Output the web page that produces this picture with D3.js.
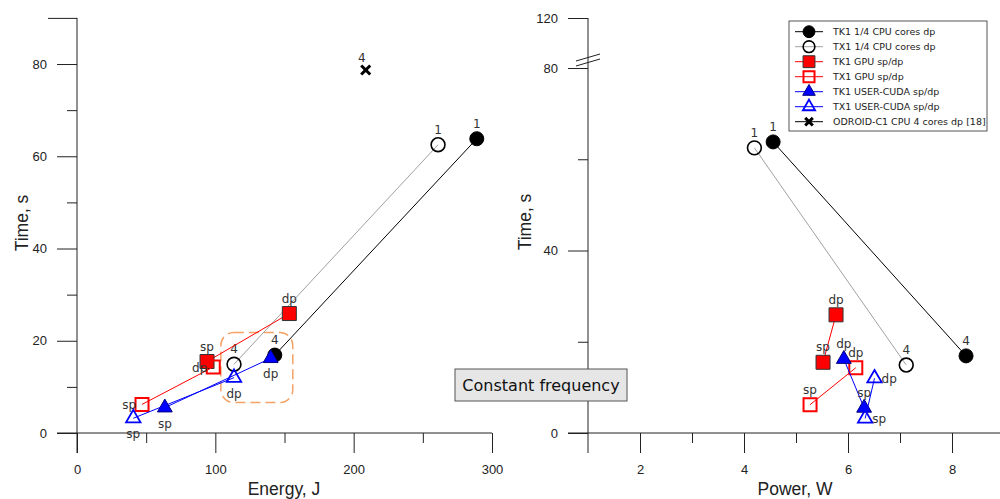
<!DOCTYPE html>
<html>
<head>
<meta charset="utf-8">
<script src="https://cdn.jsdelivr.net/npm/d3@7"></script>
<style>
  body { margin: 0; background: #fff; }
  svg text { font-family: "Liberation Sans", Arial, sans-serif; }
  .tick text { font-size: 13px; fill: #222; }
  .tick line { stroke: #222; }
  .lbl { font-family: "DejaVu Sans", Verdana, sans-serif; font-size: 12px; fill: #333; }
</style>
</head>
<body>
<script>
// series, one entry per legend row
const seriesNames = ["TK1 1/4 CPU cores dp", "TX1 1/4 CPU cores dp", "TK1 GPU sp/dp", "TX1 GPU sp/dp",
  "TK1 USER-CUDA sp/dp", "TX1 USER-CUDA sp/dp", "ODROID-C1 CPU 4 cores dp [18]"];
const pointLabels = [["1", "4"], ["1", "4"], ["sp", "dp"], ["sp", "dp"], ["sp", "dp"], ["sp", "dp"], ["4"]];
const timeS   = [[63.8, 16.9], [62.5, 14.9], [15.5, 25.9], [6.2, 14.3], [5.5, 16.2], [3.2, 12.0], [78.7]];
const energyJ = [[289, 143], [261, 113.5], [94, 153.5], [47, 98.5], [63.5, 140], [40.7, 113.5], [208.7]];
const powerW  = [[4.56, 8.27], [4.2, 7.12], [5.52, 5.77], [5.27, 6.15], [6.31, 5.92], [6.33, 6.51], [null]];

// axis ticks
const energyMajor = [0, 100, 200, 300], energyMinor = [50, 150, 250];
const timeMajorL = [0, 20, 40, 60, 80], timeMinorL = [10, 30, 50, 70];
const powerMajor = [2, 4, 6, 8], powerMinor = [3, 5, 7];
const timeMajorR = [0, 40, 80, 120], timeMinorR = [20, 60];

// highlighted region (energy, time) in the left panel
const boxEnergy = [104, 156], boxTime = [6.6, 21.8];

// where each point label sits
const leftPlace  = [["n", "n"], ["n", "n"], ["n", "n"], ["w", "w"], ["s", "s"], ["s", "s"], ["nw"]];
const rightPlace = [["n", "n"], ["n", "n"], ["n", "n"], ["n", "n"], ["n", "n"], ["e", "e"]];

const styles = [
  { shape: "circle",   size: 154, fill: "#000", stroke: "#000",    sw: 1,   line: "#000" },
  { shape: "circle",   size: 150, fill: "none", stroke: "#000",    sw: 1.6, line: "#a0a0a0" },
  { shape: "square",   size: 196, fill: "#f00", stroke: "#333",    sw: 1,   line: "#f00" },
  { shape: "square",   size: 169, fill: "none", stroke: "#f00",    sw: 2,   line: "#f00" },
  { shape: "triangle", size: 95,  fill: "#00f", stroke: "#000080", sw: 1,   line: "#00f" },
  { shape: "triangle", size: 90,  fill: "none", stroke: "#00f",    sw: 1.8, line: "#00f" },
  { shape: "times",    size: 55,  fill: "none", stroke: "#000",    sw: 3,   line: "#000" }
];
const symType = { circle: d3.symbolCircle, square: d3.symbolSquare, triangle: d3.symbolTriangle, times: d3.symbolTimes };
const placeOff = {
  n:  { dx: 0,  dy: -11, anchor: "middle" },
  s:  { dx: 0,  dy: 20,  anchor: "middle" },
  w:  { dx: -6, dy: 5,   anchor: "end" },
  e:  { dx: 7,  dy: 5,   anchor: "start" },
  nw: { dx: -4, dy: -8,  anchor: "middle" }
};

const svg = d3.select("body").append("svg")
  .attr("width", 1000).attr("height", 499);

const xL = d3.scaleLinear().domain([0, 300]).range([77, 492]);
const yL = d3.scaleLinear().domain([0, 90]).range([433, 17.9]);
const xR = d3.scaleLinear().domain([1, 9]).range([588, 1004]);
const yR = d3.scaleLinear().domain([0, 80, 120]).range([433, 68, 18]);

function axes(xs, ys, xMaj, xMin, yMaj, yMin) {
  const x0 = xs.domain()[0], y0 = ys.domain()[0];
  const bx = svg.append("g").attr("transform", `translate(0,${ys(y0)})`);
  bx.append("g").call(d3.axisBottom(xs).tickValues(xMaj).tickSize(20).tickPadding(12).tickFormat(d3.format("d")));
  bx.append("g").call(d3.axisBottom(xs).tickValues(xMin).tickSize(10).tickFormat(""));
  const ly = svg.append("g").attr("transform", `translate(${xs(x0)},0)`);
  ly.append("g").call(d3.axisLeft(ys).tickValues(yMaj).tickSize(20).tickPadding(10).tickFormat(d3.format("d")));
  ly.append("g").call(d3.axisLeft(ys).tickValues(yMin).tickSize(10).tickFormat(""));
  svg.selectAll(".domain").remove();
  // spines, both run past the origin
  svg.append("line").attr("x1", xs(x0) - 20).attr("x2", xs.range()[1])
    .attr("y1", ys(y0)).attr("y2", ys(y0)).attr("stroke", "#222");
  svg.append("line").attr("x1", xs(x0)).attr("x2", xs(x0))
    .attr("y1", ys.range()[ys.range().length - 1]).attr("y2", ys(y0) + 20).attr("stroke", "#222");
}

axes(xL, yL, energyMajor, energyMinor, timeMajorL, timeMinorL);
svg.append("g").attr("transform", `translate(${xL(0)},0)`)
  .call(d3.axisLeft(yL).tickValues([90]).tickSize(29).tickFormat(""))
  .select(".domain").remove();
axes(xR, yR, powerMajor, powerMinor, timeMajorR, timeMinorR);

// axis break marks on the right time axis
const bk = svg.append("g").attr("stroke", "#222").attr("stroke-width", 1);
[0, 5].forEach(o => {
  bk.append("line").attr("x1", xR(1) - 12).attr("y1", yR(80) - 2 - o)
    .attr("x2", xR(1) + 12).attr("y2", yR(80) - 9 - o);
});

// axis titles
svg.append("text").attr("x", 284).attr("y", 495).attr("text-anchor", "middle")
  .style("font-size", "17.5px").attr("fill", "#222").text("Energy, J");
svg.append("text").attr("x", 795).attr("y", 495).attr("text-anchor", "middle")
  .style("font-size", "17.5px").attr("fill", "#222").text("Power, W");
svg.append("text").attr("transform", "translate(28,223) rotate(-90)").attr("text-anchor", "middle")
  .style("font-size", "17.5px").attr("fill", "#222").text("Time, s");
svg.append("text").attr("transform", "translate(531,222) rotate(-90)").attr("text-anchor", "middle")
  .style("font-size", "17.5px").attr("fill", "#222").text("Time, s");

// dashed highlight box
svg.append("rect")
  .attr("x", xL(boxEnergy[0])).attr("y", yL(boxTime[1]))
  .attr("width", xL(boxEnergy[1]) - xL(boxEnergy[0]))
  .attr("height", yL(boxTime[0]) - yL(boxTime[1]))
  .attr("rx", 13).attr("ry", 13)
  .attr("fill", "none").attr("stroke", "#f5a266").attr("stroke-width", 1.5)
  .attr("stroke-dasharray", "10,5");

function panel(xs, ys, xVals, places) {
  const g = svg.append("g");
  seriesNames.forEach((name, i) => {
    if (!places[i]) return;
    const st = styles[i];
    const pts = xVals[i].map((v, j) => ({ x: v, y: timeS[i][j], lab: pointLabels[i][j], at: places[i][j] }))
      .filter(d => d.x != null);
    if (pts.length > 1) {
      g.append("path").datum(pts)
        .attr("d", d3.line().x(d => xs(d.x)).y(d => ys(d.y)))
        .attr("fill", "none").attr("stroke", st.line).attr("stroke-width", 1);
    }
    g.selectAll(null).data(pts).enter().append("path")
      .attr("transform", d => `translate(${xs(d.x)},${ys(d.y)})`)
      .attr("d", d3.symbol(symType[st.shape], st.size))
      .attr("fill", st.fill).attr("stroke", st.stroke).attr("stroke-width", st.sw);
    g.selectAll(null).data(pts).enter().append("text")
      .attr("class", "lbl")
      .attr("x", d => xs(d.x) + placeOff[d.at].dx)
      .attr("y", d => ys(d.y) + placeOff[d.at].dy)
      .attr("text-anchor", d => placeOff[d.at].anchor)
      .text(d => d.lab);
  });
}

panel(xL, yL, energyJ, leftPlace);
panel(xR, yR, powerW, rightPlace);

// legend
const lg = svg.append("g");
lg.append("rect").attr("x", 789).attr("y", 21).attr("width", 198).attr("height", 110)
  .attr("fill", "#fff").attr("stroke", "#555");
seriesNames.forEach((name, i) => {
  const st = styles[i], y = 31.7 + 15 * i;
  lg.append("line").attr("x1", 795).attr("x2", 823).attr("y1", y).attr("y2", y)
    .attr("stroke", st.line).attr("stroke-width", 1);
  lg.append("path").attr("transform", `translate(809,${y})`)
    .attr("d", d3.symbol(symType[st.shape], st.size * 0.72))
    .attr("fill", st.fill).attr("stroke", st.stroke).attr("stroke-width", st.sw);
  lg.append("text").attr("x", 833).attr("y", y + 3.5)
    .style("font-family", "'DejaVu Sans', Verdana, sans-serif").style("font-size", "9.5px")
    .attr("fill", "#222").text(name);
});

// annotation box
svg.append("rect").attr("x", 455).attr("y", 369).attr("width", 172).attr("height", 32)
  .attr("fill", "#e6e6e6").attr("stroke", "#555");
svg.append("text").attr("x", 541).attr("y", 391).attr("text-anchor", "middle")
  .style("font-family", "'DejaVu Sans', Verdana, sans-serif").style("font-size", "16px")
  .attr("fill", "#111").text("Constant frequency");
</script>
</body>
</html>
